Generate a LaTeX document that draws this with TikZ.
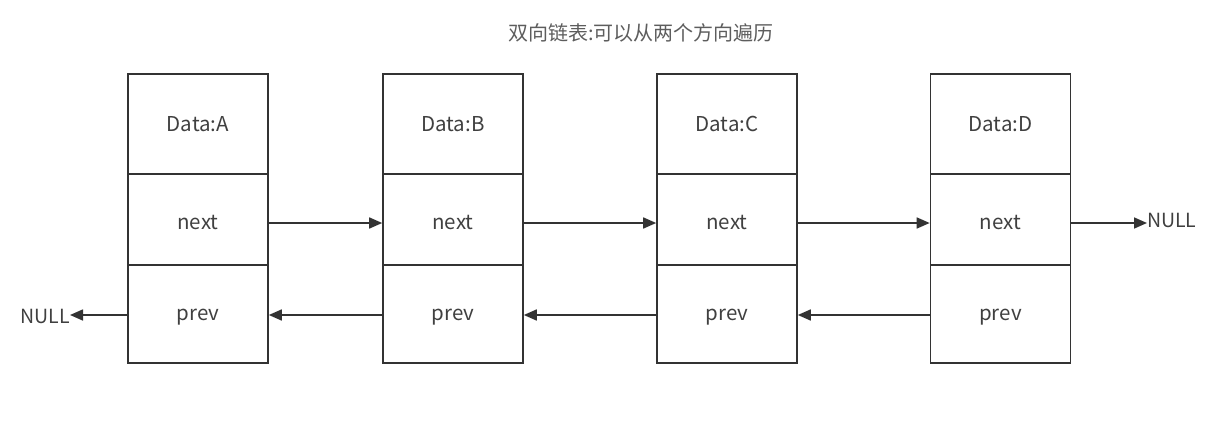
\documentclass[tikz,border=0pt]{standalone}
\usepackage{fontspec}
\setmainfont{Noto Sans CJK SC}
\usetikzlibrary{arrows.meta}
\definecolor{linec}{HTML}{333333}
\definecolor{textc}{HTML}{404040}
\begin{document}
\begin{tikzpicture}[x=1pt,y=-1pt,
  cell/.style={draw=linec, line width=1.6pt, minimum width=140pt, inner sep=0pt, text=textc, font=\fontsize{20.5}{22}\selectfont, text depth=0pt},
  datacell/.style={cell, minimum height=100pt, text height=14.2pt},
  nextcell/.style={cell, minimum height=91pt, text height=20.2pt},
  prevcell/.style={cell, minimum height=98pt, text height=13pt},
  link/.style={draw=linec, line width=1.6pt, -{Triangle[length=13pt,width=11pt]}},
  lbl/.style={text=textc, inner sep=0pt, font=\fontsize{19.5}{22}\selectfont}]
\useasboundingbox (0,0) rectangle (1211,439);
\node[text=textc!85, font=\fontsize{20}{22}\selectfont] (title) at (641,33) {双向链表:可以从两个方向遍历};
\foreach \n/\x/\l in {A/198/A, B/453/B, C/727/C, D/1000.5/D}{
  \node[datacell] (d\n) at (\x,124) {Data:\l};
  \node[nextcell] (n\n) at (\x,219.5) {next};
  \node[prevcell] (p\n) at (\x,314) {prev};
}
\path (nA.east) ++(0,3.5) coordinate (nAo);
\path (nB.east) ++(0,3.5) coordinate (nBo);
\path (nC.east) ++(0,3.5) coordinate (nCo);
\path (nD.east) ++(0,3.5) coordinate (nDo);
\path (nB.west) ++(0,3.5) coordinate (nBi);
\path (nC.west) ++(0,3.5) coordinate (nCi);
\path (nD.west) ++(0,3.5) coordinate (nDi);
\node[lbl, anchor=west] (nullR) at (1147,220) {NULL};
\node[lbl, anchor=east] (nullL) at (70,316) {NULL};
\draw[link] (nAo) -- (nBi);
\draw[link] (nBo) -- (nCi);
\draw[link] (nCo) -- (nDi);
\draw[link] (nDo) -- (nDo -| nullR.west);
\path (pA.west) ++(0,1) coordinate (pAi);
\path (pA.east) ++(0,1) coordinate (pAo);
\path (pB.east) ++(0,1) coordinate (pBo);
\path (pC.east) ++(0,1) coordinate (pCo);
\path (pB.west) ++(0,1) coordinate (pBi);
\path (pC.west) ++(0,1) coordinate (pCi);
\path (pD.west) ++(0,1) coordinate (pDi);
\draw[link] (pBi) -- (pAo);
\draw[link] (pCi) -- (pBo);
\draw[link] (pDi) -- (pCo);
\draw[link] (pAi) -- (pAi -| nullL.east);
\end{tikzpicture}
\end{document}
